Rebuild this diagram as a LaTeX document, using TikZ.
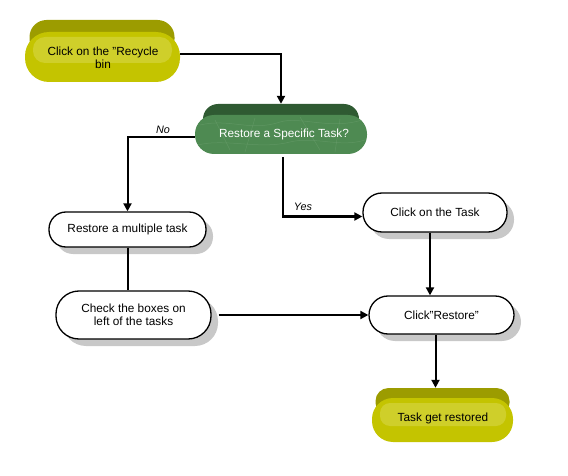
\documentclass[tikz,border=0pt]{standalone}
\usepackage{fontspec}
\setmainfont{Liberation Sans}
\usetikzlibrary{arrows.meta,shadows,positioning}
\definecolor{olivetop}{HTML}{9C9C00}
\definecolor{olivebody}{HTML}{C4C400}
\definecolor{olivehi}{HTML}{CFCF2A}
\definecolor{greentop}{HTML}{2F5A32}
\definecolor{greenbody}{HTML}{4E8A52}
\definecolor{greenhi}{HTML}{6A9E6C}
\definecolor{shadowgray}{HTML}{C8C8C8}
\tikzset{
  txt/.style={font=\fontsize{11.8}{13.5}\selectfont, align=center, inner sep=0pt},
  wbox/.style={txt, draw=black, line width=1.3pt, fill=white,
    drop shadow={shadow xshift=7pt, shadow yshift=-7pt, fill=shadowgray, opacity=1}},
  conn/.style={line width=2pt, -{Triangle[length=8pt,width=8pt]}},
  plain/.style={line width=2pt},
  lbl/.style={font=\fontsize{10.8}{12}\selectfont\itshape, inner sep=0pt},
  vein/.style={greenhi, line width=0.5pt, opacity=0.6},
}
\begin{document}
\begin{tikzpicture}[x=1pt,y=-1pt]
\useasboundingbox (0,0) rectangle (568,476);
% --- top yellow terminal
\node[fill=olivetop, minimum width=145pt, minimum height=36pt, rounded corners=17pt, inner sep=0pt] (rband) at (102,38) {};
\node[fill=olivebody, minimum width=155pt, minimum height=50pt, rounded corners=24pt, inner sep=0pt] (recycle) at (102.5,57) {};
\fill[olivehi, rounded corners=12pt] (33,37) rectangle (172,63);
\node[txt] at (103,58) {Click on the "Recycle\\bin};
% --- decision
\node[fill=greentop, minimum width=156pt, minimum height=31pt, rounded corners=15pt, inner sep=0pt] (dband) at (281,119.5) {};
\node[fill=greenbody, minimum width=172pt, minimum height=39pt, rounded corners=19pt, inner sep=0pt] (decision) at (281,134.5) {};
\begin{scope}
\clip[rounded corners=19pt] (195,115) rectangle (367,154);
\draw[vein] (200,125) .. controls (230,118) and (250,132) .. (280,122) .. controls (300,116) and (330,130) .. (362,120);
\draw[vein] (198,145) .. controls (225,138) and (260,150) .. (290,142) .. controls (315,136) and (340,148) .. (365,140);
\draw[vein] (215,120) -- (230,150) (255,118) -- (245,152) (300,117) -- (320,150) (340,119) -- (335,152);
\end{scope}
\node[txt, text=white] at (284,134) {Restore a Specific Task?};
% --- white boxes
\node[wbox, minimum width=144pt, minimum height=39pt, rounded corners=19pt] (task) at (435,212.5) {Click on the Task};
\node[wbox, minimum width=157pt, minimum height=35pt, rounded corners=17pt] (multi) at (127.5,229.5) {Restore a multiple task};
\node[wbox, minimum width=155pt, minimum height=48pt, rounded corners=23pt] (check) at (133.5,315) {Check the boxes on\\left of the tasks};
\node[wbox, minimum width=145pt, minimum height=38pt, rounded corners=19pt] (restore) at (441.5,315) {Click"Restore"};
% --- final yellow terminal
\node[fill=olivetop, minimum width=134pt, minimum height=28pt, rounded corners=13pt, inner sep=0pt] (fband) at (442.5,402) {};
\node[fill=olivebody, minimum width=141pt, minimum height=44pt, rounded corners=21pt, inner sep=0pt] (final) at (442.5,420) {};
\fill[olivehi, rounded corners=10pt] (380,403) rectangle (506,426);
\node[txt] at (443,418) {Task get restored};
% --- connectors
\draw[conn] ([yshift=3pt]recycle.east) -| (dband.north);
\draw[conn] ([yshift=-3pt]decision.west) -| (multi.north);
\node[lbl] at (163,130) {No};
\draw[conn] ([xshift=2pt,yshift=-3pt]decision.south) |- ([yshift=-4pt]task.west);
\node[lbl] at (303,207) {Yes};
\draw[plain] (multi.south) -- (multi.south |- check.north);
\draw[conn] ([xshift=7pt]check.east) -- (restore.west);
\draw[conn] ([xshift=-5pt]task.south) -- ([xshift=-5pt]task.south |- restore.north);
\draw[conn] ([xshift=-6pt]restore.south) -- ([xshift=-6pt]restore.south |- fband.north);
\end{tikzpicture}
\end{document}
